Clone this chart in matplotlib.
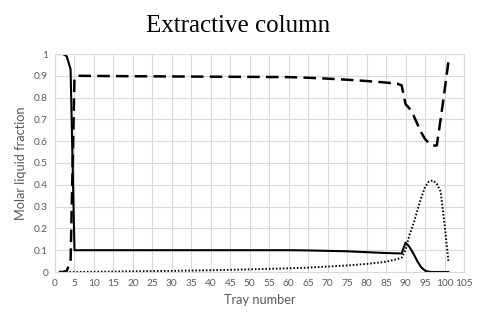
import matplotlib
matplotlib.use("Agg")
import matplotlib.pyplot as plt
import numpy as np

# tray numbers and liquid fractions
tray_a = [1, 2, 3, 4, 5, 10, 20, 30, 40, 50, 60, 65, 70, 75, 80, 85, 89, 90, 91, 92, 93, 94, 95, 96, 97, 101]
x_solid = [1.0, 1.0, 0.99, 0.93, 0.10, 0.10, 0.10, 0.10, 0.10, 0.10, 0.10, 0.099, 0.097, 0.095, 0.091, 0.087, 0.085,
           0.135, 0.115, 0.085, 0.05, 0.022, 0.006, 0.001, 0.0, 0.0]

tray_b = [1, 2, 3, 4, 5, 6, 20, 40, 60, 65, 70, 75, 80, 85, 88, 89, 90, 91, 92, 93, 94, 95, 96, 97, 98, 99, 100, 101]
x_dashed = [0.0, 0.0, 0.005, 0.05, 0.89, 0.90, 0.898, 0.896, 0.894, 0.891, 0.887, 0.882, 0.876, 0.869, 0.863, 0.856,
            0.77, 0.75, 0.72, 0.68, 0.64, 0.61, 0.59, 0.58, 0.58, 0.70, 0.83, 0.965]

tray_c = [1, 5, 10, 20, 30, 40, 50, 60, 65, 70, 75, 80, 85, 88, 89, 90, 91, 92, 93, 94, 95, 96, 97, 98, 99, 100, 101]
x_dotted = [0.0, 0.0, 0.001, 0.003, 0.005, 0.008, 0.012, 0.017, 0.02, 0.025, 0.03, 0.037, 0.047, 0.06, 0.066,
            0.10, 0.17, 0.22, 0.28, 0.34, 0.39, 0.415, 0.42, 0.405, 0.37, 0.22, 0.05]

x_ticks = list(range(0, 106, 5))
y_ticks = [0, 0.1, 0.2, 0.3, 0.4, 0.5, 0.6, 0.7, 0.8, 0.9, 1]
y_tick_labels = ["0", "0.1", "0.2", "0.3", "0.4", "0.5", "0.6", "0.7", "0.8", "0.9", "1"]

fig = plt.figure(figsize=(4.78, 3.16), dpi=100)
ax = fig.add_axes([55/478, 1 - 272/316, 409/478, 218/316])

ax.plot(tray_a, x_solid, color="black", lw=1.5, solid_joinstyle="round")
ax.plot(tray_b, x_dashed, color="black", lw=1.8, dashes=(5, 2.5))
ax.plot(tray_c, x_dotted, color="black", lw=1.4, dashes=(0.8, 1.0))

ax.set_xlim(0, 105)
ax.set_ylim(0, 1)
ax.set_xticks(x_ticks)
ax.set_yticks(y_ticks)
ax.set_yticklabels(y_tick_labels)
ax.grid(True, color="#d9d9d9", lw=0.8)
ax.set_axisbelow(True)
for s in ax.spines.values():
    s.set_color("#d9d9d9")
    s.set_linewidth(0.8)
ax.tick_params(length=0, labelsize=7.3, labelcolor="#595959", pad=5)
for lab in ax.get_xticklabels() + ax.get_yticklabels():
    lab.set_family("Lato")

ax.set_xlabel("Tray number", family="Lato", fontsize=9.2, color="#595959", labelpad=4)
ax.set_ylabel("Molar liquid fraction", family="Lato", fontsize=9.2, color="#595959", labelpad=5)

fig.text(0.497, 0.9, "Extractive column", family="Liberation Serif", fontsize=18, ha="center", va="baseline")

fig.savefig("out.png", dpi=100)
